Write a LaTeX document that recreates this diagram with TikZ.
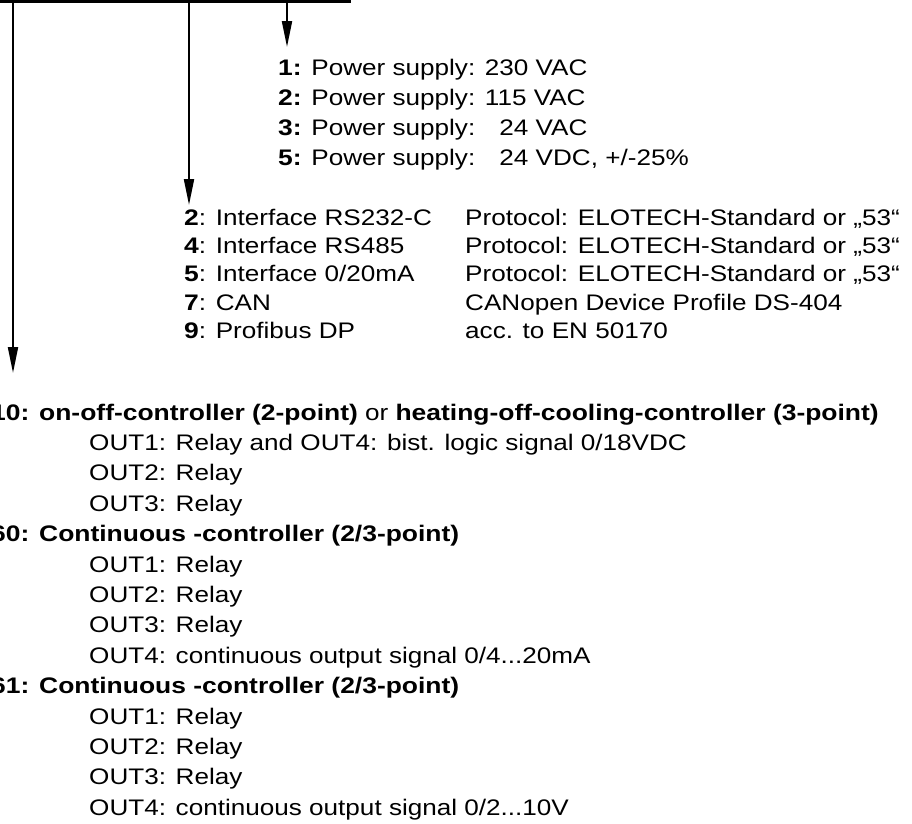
\documentclass[tikz,border=0pt]{standalone}
\usepackage{fontspec}
\setmainfont[FakeStretch=1.16, BoldFeatures={FakeStretch=1.175}]{Liberation Sans}
\usetikzlibrary{positioning, arrows.meta}

\begin{document}
\begin{tikzpicture}[
    x=1pt, y=-1pt,
    entry/.style={anchor=base west, inner sep=0pt, font=\fontsize{22.5}{27}\selectfont},
    feed/.style={-{Triangle[length=26pt, width=10pt]}, line width=2pt},
    frame/.style={line width=3pt},
]
\useasboundingbox (0,0) rectangle (912,823);

% Frame edge of the unit (above the picture)
\coordinate (frameL) at (-5,1.5);
\coordinate (frameR) at (349,1.5);
\coordinate (frameT) at (349,-5);
\draw[frame] (frameL) -- (frameR) -- (frameT);

% Taps on the frame and arrow tips
\coordinate (pwrTap) at (287,1.5);
\coordinate (pwrTip) at (287,47);
\coordinate (ifTap) at (189,1.5);
\coordinate (ifTip) at (189,205);
\coordinate (ctlTap) at (13,1.5);
\coordinate (ctlTip) at (13,373);

% Power supply
\node[entry] (pw1) at (278,75)  {\textbf{1:} Power supply: 230 VAC};
\node[entry] (pw2) at (278,105) {\textbf{2:} Power supply: 115 VAC};
\node[entry] (pw3) at (278,135) {\textbf{3:} Power supply: \hphantom{2}24 VAC};
\node[entry] (pw5) at (278,165) {\textbf{5:} Power supply: \hphantom{2}24 VDC, +/-25\%};

% Interfaces
\node[entry] (if2) at (184,225)   {\textbf{2}: Interface RS232-C};
\node[entry] (if4) at (184,253.3) {\textbf{4}: Interface RS485};
\node[entry] (if5) at (184,281.6) {\textbf{5}: Interface 0/20mA};
\node[entry] (if7) at (184,310)   {\textbf{7}: CAN};
\node[entry] (if9) at (184,338.3) {\textbf{9}: Profibus DP};

\node[entry] (pr2) at (465,225)   {Protocol: ELOTECH-Standard or „53“};
\node[entry] (pr4) at (465,253.3) {Protocol: ELOTECH-Standard or „53“};
\node[entry] (pr5) at (465,281.6) {Protocol: ELOTECH-Standard or „53“};
\node[entry] (pr7) at (465,310)   {CANopen Device Profile DS-404};
\node[entry] (pr9) at (465,338.3) {acc. to EN 50170};

% Controller types
\node[entry] (c10) at (-9,420)
  {\textbf{10: on-off-controller (2-point)} or \textbf{heating-off-cooling-controller (3-point)}};
\node[entry] (c10a) at (89,450.4) {OUT1: Relay and OUT4: bist. logic signal 0/18VDC};
\node[entry] (c10b) at (89,480.8) {OUT2: Relay};
\node[entry] (c10c) at (89,511.2) {OUT3: Relay};

\node[entry] (c60) at (-9,541.6) {\textbf{60: Continuous -controller (2/3-point)}};
\node[entry] (c60a) at (89,572)   {OUT1: Relay};
\node[entry] (c60b) at (89,602.4) {OUT2: Relay};
\node[entry] (c60c) at (89,632.8) {OUT3: Relay};
\node[entry] (c60d) at (89,663.2) {OUT4: continuous output signal 0/4...20mA};

\node[entry] (c61) at (-9,693.6) {\textbf{61: Continuous -controller (2/3-point)}};
\node[entry] (c61a) at (89,724)   {OUT1: Relay};
\node[entry] (c61b) at (89,754.4) {OUT2: Relay};
\node[entry] (c61c) at (89,784.8) {OUT3: Relay};
\node[entry] (c61d) at (89,815.2) {OUT4: continuous output signal 0/2...10V};

% Arrows
\foreach \a/\b in {pwrTap/pwrTip, ifTap/ifTip, ctlTap/ctlTip} {
  \draw[feed] (\a) -- (\b);
}

\end{tikzpicture}
\end{document}
